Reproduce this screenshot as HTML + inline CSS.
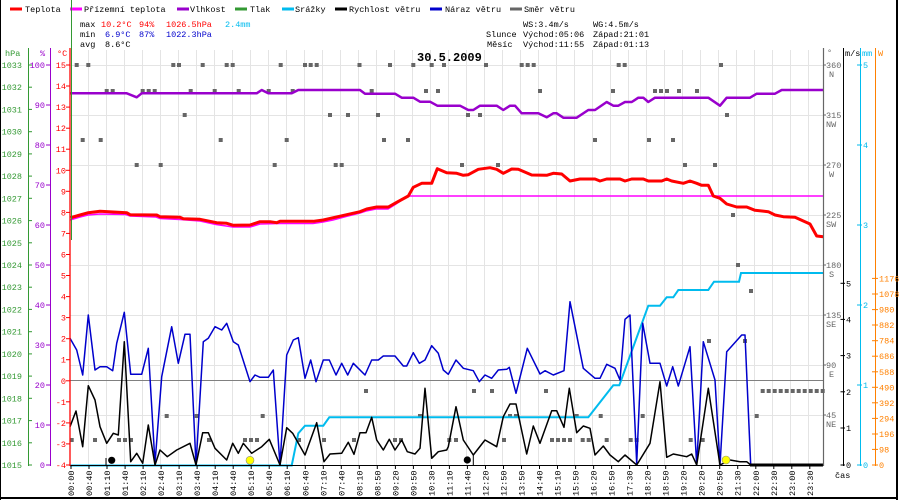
<!DOCTYPE html>
<html><head><meta charset="utf-8"><style>
html,body{margin:0;padding:0;background:#fff;}
svg{display:block;}
text{font-family:"Liberation Mono","DejaVu Sans Mono",monospace;font-size:8.5px;}
</style></head><body>
<svg width="900" height="500" viewBox="0 0 900 500" xmlns="http://www.w3.org/2000/svg">
<rect x="0" y="0" width="900" height="500" fill="#fff"/>
<rect x="0" y="0" width="1" height="500" fill="#000"/>
<rect x="896" y="0" width="2" height="500" fill="#000"/>
<rect x="0" y="497" width="898" height="2" fill="#000"/>

<g stroke-width="3">
<line x1="10" y1="9" x2="22" y2="9" stroke="#ff0000"/>
<line x1="70" y1="9" x2="82" y2="9" stroke="#ff00ff"/>
<line x1="177" y1="9" x2="189" y2="9" stroke="#9900cc"/>
<line x1="235" y1="9" x2="247" y2="9" stroke="#339933"/>
<line x1="282" y1="9" x2="294" y2="9" stroke="#00bbee"/>
<line x1="335" y1="9" x2="347" y2="9" stroke="#000"/>
<line x1="430" y1="9" x2="442" y2="9" stroke="#0000cc"/>
<line x1="510" y1="9" x2="522" y2="9" stroke="#666"/>
</g>
<g fill="#000">
<text x="25" y="12">Teplota</text>
<text x="84" y="12">Přízemní teplota</text>
<text x="190" y="12">Vlhkost</text>
<text x="250" y="12">Tlak</text>
<text x="295" y="12">Srážky</text>
<text x="349" y="12">Rychlost větru</text>
<text x="445" y="12">Náraz větru</text>
<text x="524" y="12">Směr větru</text>
</g>
<text x="80" y="27">max</text>
<text x="101" y="27" fill="#ff0000">10.2°C</text>
<text x="139" y="27" fill="#ff0000">94%</text>
<text x="166" y="27" fill="#ff0000">1026.5hPa</text>
<text x="225" y="27" fill="#00bbee">2.4mm</text>
<text x="80" y="37">min</text>
<text x="105" y="37" fill="#0000cc">6.9°C</text>
<text x="139" y="37" fill="#0000cc">87%</text>
<text x="166" y="37" fill="#0000cc">1022.3hPa</text>
<text x="80" y="47">avg</text>
<text x="105" y="47">8.6°C</text>

<text x="523" y="27">WS:3.4m/s</text>
<text x="593" y="27">WG:4.5m/s</text>
<text x="486" y="37">Slunce</text>
<text x="523" y="37">Východ:05:06</text>
<text x="593" y="37">Západ:21:01</text>
<text x="487" y="47">Měsíc</text>
<text x="523" y="47">Východ:11:55</text>
<text x="593" y="47">Západ:01:13</text>

<g stroke="#e4e4e4" stroke-width="1">
<line x1="88.5" y1="50" x2="88.5" y2="465"/><line x1="106.5" y1="50" x2="106.5" y2="465"/><line x1="124.5" y1="50" x2="124.5" y2="465"/><line x1="142.5" y1="50" x2="142.5" y2="465"/><line x1="160.5" y1="50" x2="160.5" y2="465"/><line x1="178.5" y1="50" x2="178.5" y2="465"/><line x1="196.5" y1="50" x2="196.5" y2="465"/><line x1="214.5" y1="50" x2="214.5" y2="465"/><line x1="232.5" y1="50" x2="232.5" y2="465"/><line x1="250.5" y1="50" x2="250.5" y2="465"/><line x1="268.5" y1="50" x2="268.5" y2="465"/><line x1="286.5" y1="50" x2="286.5" y2="465"/><line x1="304.5" y1="50" x2="304.5" y2="465"/><line x1="322.5" y1="50" x2="322.5" y2="465"/><line x1="340.5" y1="50" x2="340.5" y2="465"/><line x1="358.5" y1="50" x2="358.5" y2="465"/><line x1="376.5" y1="50" x2="376.5" y2="465"/><line x1="394.5" y1="50" x2="394.5" y2="465"/><line x1="412.5" y1="50" x2="412.5" y2="465"/><line x1="430.5" y1="50" x2="430.5" y2="465"/><line x1="448.5" y1="50" x2="448.5" y2="465"/><line x1="466.5" y1="50" x2="466.5" y2="465"/><line x1="484.5" y1="50" x2="484.5" y2="465"/><line x1="502.5" y1="50" x2="502.5" y2="465"/><line x1="520.5" y1="50" x2="520.5" y2="465"/><line x1="538.5" y1="50" x2="538.5" y2="465"/><line x1="556.5" y1="50" x2="556.5" y2="465"/><line x1="574.5" y1="50" x2="574.5" y2="465"/><line x1="592.5" y1="50" x2="592.5" y2="465"/><line x1="610.5" y1="50" x2="610.5" y2="465"/><line x1="628.5" y1="50" x2="628.5" y2="465"/><line x1="646.5" y1="50" x2="646.5" y2="465"/><line x1="664.5" y1="50" x2="664.5" y2="465"/><line x1="682.5" y1="50" x2="682.5" y2="465"/><line x1="700.5" y1="50" x2="700.5" y2="465"/><line x1="718.5" y1="50" x2="718.5" y2="465"/><line x1="736.5" y1="50" x2="736.5" y2="465"/><line x1="754.5" y1="50" x2="754.5" y2="465"/><line x1="772.5" y1="50" x2="772.5" y2="465"/><line x1="790.5" y1="50" x2="790.5" y2="465"/><line x1="808.5" y1="50" x2="808.5" y2="465"/>
</g>
<g stroke="#e4e4e4" stroke-width="1">
<line x1="70" y1="65.5" x2="823" y2="65.5"/><line x1="70" y1="115.5" x2="823" y2="115.5"/><line x1="70" y1="165.5" x2="823" y2="165.5"/><line x1="70" y1="215.5" x2="823" y2="215.5"/><line x1="70" y1="265.5" x2="823" y2="265.5"/><line x1="70" y1="315.5" x2="823" y2="315.5"/><line x1="70" y1="365.5" x2="823" y2="365.5"/><line x1="70" y1="415.5" x2="823" y2="415.5"/>
</g>
<line x1="70" y1="380.5" x2="823" y2="380.5" stroke="#808080" stroke-width="1"/>

<text x="417" y="61" style="font-size:12px;font-weight:bold">30.5.2009</text>

<g fill="#666">
<rect x="74.7" y="63" width="4" height="4"/><rect x="86.3" y="63" width="4" height="4"/><rect x="171.3" y="63" width="4" height="4"/><rect x="177" y="63" width="4" height="4"/><rect x="200.7" y="63" width="4" height="4"/><rect x="224.7" y="63" width="4" height="4"/><rect x="230.7" y="63" width="4" height="4"/><rect x="278.7" y="63" width="4" height="4"/><rect x="303" y="63" width="4" height="4"/><rect x="308.7" y="63" width="4" height="4"/><rect x="314.7" y="63" width="4" height="4"/><rect x="357.5" y="63" width="4" height="4"/><rect x="388" y="63" width="4" height="4"/><rect x="411.3" y="63" width="4" height="4"/><rect x="429.7" y="63" width="4" height="4"/><rect x="442" y="63" width="4" height="4"/><rect x="484" y="63" width="4" height="4"/><rect x="519.7" y="63" width="4" height="4"/><rect x="525.7" y="63" width="4" height="4"/><rect x="531.7" y="63" width="4" height="4"/><rect x="616.7" y="63" width="4" height="4"/><rect x="622.7" y="63" width="4" height="4"/><rect x="719" y="63" width="4" height="4"/>
<rect x="104.7" y="89" width="4" height="4"/><rect x="110.7" y="89" width="4" height="4"/><rect x="140.7" y="89" width="4" height="4"/><rect x="146.7" y="89" width="4" height="4"/><rect x="152.7" y="89" width="4" height="4"/><rect x="188.7" y="89" width="4" height="4"/><rect x="212.7" y="89" width="4" height="4"/><rect x="236.7" y="89" width="4" height="4"/><rect x="266.7" y="89" width="4" height="4"/><rect x="290.7" y="89" width="4" height="4"/><rect x="369.7" y="89" width="4" height="4"/><rect x="424" y="89" width="4" height="4"/><rect x="436" y="89" width="4" height="4"/><rect x="538" y="89" width="4" height="4"/><rect x="611" y="89" width="4" height="4"/><rect x="653" y="89" width="4" height="4"/><rect x="659" y="89" width="4" height="4"/><rect x="665" y="89" width="4" height="4"/><rect x="677" y="89" width="4" height="4"/><rect x="695" y="89" width="4" height="4"/>
<rect x="182.7" y="113" width="4" height="4"/><rect x="328" y="113" width="4" height="4"/><rect x="346" y="113" width="4" height="4"/><rect x="376" y="113" width="4" height="4"/><rect x="466" y="113" width="4" height="4"/><rect x="478" y="113" width="4" height="4"/><rect x="725" y="113" width="4" height="4"/>
<rect x="80.7" y="138" width="4" height="4"/><rect x="98.7" y="138" width="4" height="4"/><rect x="218.7" y="138" width="4" height="4"/><rect x="284.7" y="138" width="4" height="4"/><rect x="382" y="138" width="4" height="4"/><rect x="406" y="138" width="4" height="4"/><rect x="593" y="138" width="4" height="4"/><rect x="647" y="138" width="4" height="4"/><rect x="671" y="138" width="4" height="4"/>
<rect x="134.7" y="163" width="4" height="4"/><rect x="158.7" y="163" width="4" height="4"/><rect x="272.7" y="163" width="4" height="4"/><rect x="333.7" y="163" width="4" height="4"/><rect x="339.7" y="163" width="4" height="4"/><rect x="460" y="163" width="4" height="4"/><rect x="496" y="163" width="4" height="4"/><rect x="683" y="163" width="4" height="4"/><rect x="713" y="163" width="4" height="4"/>
<rect x="731" y="213" width="4" height="4"/><rect x="736" y="263" width="4" height="4"/><rect x="749" y="289" width="4" height="4"/><rect x="707" y="339" width="4" height="4"/><rect x="743" y="339" width="4" height="4"/>
<rect x="364" y="389" width="4" height="4"/><rect x="472" y="389" width="4" height="4"/><rect x="490" y="389" width="4" height="4"/><rect x="544" y="389" width="4" height="4"/><rect x="760.7" y="389" width="4" height="4"/><rect x="766.7" y="389" width="4" height="4"/><rect x="772.7" y="389" width="4" height="4"/><rect x="778.7" y="389" width="4" height="4"/><rect x="784.7" y="389" width="4" height="4"/><rect x="790.7" y="389" width="4" height="4"/><rect x="796.7" y="389" width="4" height="4"/><rect x="802.7" y="389" width="4" height="4"/><rect x="808.7" y="389" width="4" height="4"/><rect x="814.7" y="389" width="4" height="4"/><rect x="820.7" y="389" width="4" height="4"/>
<rect x="164.7" y="414" width="4" height="4"/><rect x="194.7" y="414" width="4" height="4"/><rect x="260.7" y="414" width="4" height="4"/><rect x="418" y="414" width="4" height="4"/><rect x="508" y="414" width="4" height="4"/><rect x="514" y="414" width="4" height="4"/><rect x="574.7" y="414" width="4" height="4"/><rect x="598.7" y="414" width="4" height="4"/><rect x="640.7" y="414" width="4" height="4"/><rect x="754.7" y="414" width="4" height="4"/>
<rect x="69.7" y="438" width="4" height="4"/><rect x="93" y="438" width="4" height="4"/><rect x="117" y="438" width="4" height="4"/><rect x="123" y="438" width="4" height="4"/><rect x="129" y="438" width="4" height="4"/><rect x="207" y="438" width="4" height="4"/><rect x="243" y="438" width="4" height="4"/><rect x="249" y="438" width="4" height="4"/><rect x="255" y="438" width="4" height="4"/><rect x="297" y="438" width="4" height="4"/><rect x="322" y="438" width="4" height="4"/><rect x="352" y="438" width="4" height="4"/><rect x="393" y="438" width="4" height="4"/><rect x="399" y="438" width="4" height="4"/><rect x="447.3" y="438" width="4" height="4"/><rect x="454" y="438" width="4" height="4"/><rect x="502" y="438" width="4" height="4"/><rect x="550" y="438" width="4" height="4"/><rect x="556" y="438" width="4" height="4"/><rect x="562" y="438" width="4" height="4"/><rect x="568" y="438" width="4" height="4"/><rect x="580.7" y="438" width="4" height="4"/><rect x="586.7" y="438" width="4" height="4"/><rect x="604.7" y="438" width="4" height="4"/><rect x="628.7" y="438" width="4" height="4"/><rect x="634.7" y="438" width="4" height="4"/><rect x="688.7" y="438" width="4" height="4"/><rect x="700.7" y="438" width="4" height="4"/>
</g>

<polyline fill="none" stroke="#9900cc" stroke-width="2.5" stroke-linejoin="round" points="70,93.3 126.7,93.3 136.7,97.3 141.7,93.3 256.7,93.3 261.7,90 268.3,93.3 291.7,93.3 298.3,90 360,90 365,93.7 395,93.7 401.7,97.7 413.3,97.7 420,101.7 430,101.7 437.3,105.7 460,105.7 468.3,110 473.3,110 480,105.7 496.7,105.7 503.3,110 510,105.7 515,105.7 521.7,113.3 538.3,113.3 546.7,117.3 553.3,113.3 556.7,113.3 563.3,117.7 576.7,117.7 588.3,110 595,110 606.7,102 613.3,105.7 618.3,105.7 625,102 631.7,102 638.3,97.7 643.3,97.7 648.3,102 655,97.7 708.3,97.7 720,105.7 726.7,97.7 750,97.7 756.7,93.7 775,93.7 781.7,90 823.3,90"/>

<polyline fill="none" stroke="#ff00ff" stroke-width="1.6" points="70,220 80,217 88,215 100,214 126,214.5 130,216 156,217 160,218.5 180,219.5 200,221 216,224.5 233,227 250,227 260,224 280,223.5 313,223.5 323,222 333,220 346,216.5 360,213 366,211 376,209 388,209 396,204 408,196 823,196"/>

<polyline fill="none" stroke="#ff0000" stroke-width="3" stroke-linejoin="round" points="70.7,217.7 80,215 88.3,212.7 100,211.3 126.7,212.7 130,214.7 156.7,215 160,216.7 180,217.3 183.3,218.7 200,219.3 216.7,222.7 226.7,223.3 233.3,225.3 250,225 260,221.7 270,221.7 276.7,222.7 280,221.3 313.3,221.3 323.3,220 333.3,217.7 346.7,214.7 360,211.7 366.7,209 376.7,207 388.3,207 396.7,202.3 408.3,196 413.3,187.3 421.7,183.3 431.7,183.3 437.3,168.7 446.7,172.7 456.7,173.3 463.3,175.3 468.3,174.7 478.3,169.3 490,167.7 496.7,169.3 503.3,173.3 511.7,169 518.3,169.3 531.7,175 546.7,175.3 553.3,173.3 561.7,174 570,181 580,179 595,179 600,181 606.7,179 620,179 625,181 631.7,179 643.3,179 648.3,181 661.7,181 666.7,179 671.7,181 683.3,183.3 690,181 696.7,183.3 701.7,185.3 708.3,185.3 713.3,196 720,198.3 726.7,204 736.7,207 746.7,207 755,210.3 768.3,211.7 775,215 783.3,216.7 795,217.3 810,224 816.7,236 823.3,236.7"/>

<polyline fill="none" stroke="#00bbee" stroke-width="2" points="70,465.5 291.7,465.5 298.3,433.3 305,425.7 323.3,425.7 329.3,417.3 588.3,417.3 613.3,385.3 619.3,385.3 648.3,305.7 660,305.7 666.7,297.3 673.3,297.3 678.3,290 708.3,290 714,281.7 739,281.7 741,273 823,273"/>

<polyline fill="none" stroke="#0000cc" stroke-width="1.5" stroke-linejoin="round" points="70,338.3 76.7,350 82.7,375 88.3,315 95,370 100,366.7 106.7,366.7 112.7,370.7 116.7,343.3 124.3,312.3 130.7,374.3 141.7,374.3 148.3,348.3 155,463.3 161.7,376.7 171.7,326.7 178.3,363.3 185,334.3 190,334.3 196,465 203.3,341.7 208.3,338.3 215,326.7 221.7,330 226.7,323.3 233.3,341.7 238.3,345 250,381.7 255,375 260,377.3 268.3,377.3 273.3,370 280,465 286.7,355 293.3,340 298.3,337.7 305,378.3 310.7,360 316,381.7 323.3,360 329.3,360 336,375 341.7,363.3 347.7,375 353.3,363.3 365,375 371.7,360 378.3,360 383.3,356 395,356 403.3,366 406.7,366 413.3,352.7 419.3,363.3 425,360 431.7,345.7 438.3,353.3 443.3,370 448.3,374.3 456,360 463.3,368.3 473.3,370.7 479.3,381.7 485,375 491.7,378.3 498.3,370 506.7,369.3 509.3,367.3 516,393.3 527.3,348.3 540,374 545,370.7 553.3,375 564,370.7 570,301.7 583.3,368.3 595,378.3 600,378.3 606.7,364.3 615,368.3 620,380 625,319.3 630,315 636.7,463.3 642.7,323.3 650,363.3 660,363.3 666.7,386 672.7,366.7 678.3,386 690,346.7 696.7,465 703.3,341.7 715,380 720,465 726.7,351.7 741.7,335 745,335 750.7,465"/>

<polyline fill="none" stroke="#000" stroke-width="1.5" stroke-linejoin="round" points="70,426.7 76,411 82.7,446.7 88.3,385.7 95,400 100,426.7 106.7,443.3 113.3,433.3 118.3,435 124.3,341.7 130.7,461.7 136.7,453.3 142.7,463.3 148.3,425 155,465 160,450 167.3,456.7 176.7,450 190,443.3 196,465 202.7,432.7 208.3,432.7 215,448.3 226.7,460 232.7,443.3 238.3,453.3 243.3,443.3 251.7,453.3 261.7,446.7 269.3,439.3 280,465 286.7,427.7 292.7,433.3 305,455 316.7,422.7 324,461.7 330,454 341.7,453.3 348.3,442.3 354,454.3 360,432.7 366,432.7 371.7,417.3 376.7,440 383.3,450 389.3,439.3 395,450 401.7,440 407.3,451.7 415,454 420,448.3 425,388.3 431.7,458.3 438.3,451.7 446.7,450 448.3,446.7 456,406.7 463.3,440 473.3,455 485,440 496.7,446.7 503.3,416.7 510,404 516,404 526.7,454 533.3,426 540,443.3 551.7,410.7 556.7,410.7 564,427.3 569.3,388.3 576.7,432.7 583.3,426 590,428.3 595,455 603.3,446 610,455 618.3,461.7 625,455 636.7,465 650,443.3 660,381.7 666.7,457.3 673.3,454 686.7,456.7 691.7,454 696.7,465 708.3,388.3 720,465 730,460 740,461.7 746.7,461.7 750.7,465"/>
<line x1="750" y1="465" x2="823" y2="465" stroke="#000" stroke-width="3"/>

<line x1="70" y1="465.5" x2="823" y2="465.5" stroke="#000" stroke-width="1"/>
<line x1="106" y1="458" x2="106" y2="465" stroke="#000" stroke-width="1"/>
<line x1="473.3" y1="455" x2="473.3" y2="465" stroke="#000" stroke-width="1"/>
<circle cx="111.7" cy="460.3" r="3.6" fill="#000"/>
<circle cx="467.3" cy="460" r="3.6" fill="#000"/>
<circle cx="250" cy="460.3" r="4" fill="#ffff00" stroke="#888" stroke-width="0.6"/>
<circle cx="726" cy="460" r="4" fill="#ffff00" stroke="#888" stroke-width="0.6"/>

<line x1="28.5" y1="48" x2="28.5" y2="466" stroke="#339933" stroke-width="1"/>
<line x1="50.5" y1="48" x2="50.5" y2="466" stroke="#9900cc" stroke-width="1"/>
<line x1="71.5" y1="0" x2="71.5" y2="240" stroke="#339933" stroke-width="1"/>
<line x1="70" y1="48" x2="70" y2="466" stroke="#ff0000" stroke-width="1.3"/>
<text x="5" y="56" fill="#339933">hPa</text>
<text x="40" y="56" fill="#9900cc">%</text>
<text x="57" y="56" fill="#ff0000">°C</text>

<g fill="#339933" text-anchor="end">
<text x="22" y="68">1033</text><text x="22" y="90.2">1032</text><text x="22" y="112.4">1031</text><text x="22" y="134.7">1030</text><text x="22" y="156.9">1029</text><text x="22" y="179.1">1028</text><text x="22" y="201.3">1027</text><text x="22" y="223.6">1026</text><text x="22" y="245.8">1025</text><text x="22" y="268">1024</text><text x="22" y="290.2">1023</text><text x="22" y="312.4">1022</text><text x="22" y="334.7">1021</text><text x="22" y="356.9">1020</text><text x="22" y="379.1">1019</text><text x="22" y="401.3">1018</text><text x="22" y="423.6">1017</text><text x="22" y="445.8">1016</text><text x="22" y="468">1015</text>
</g>
<g stroke="#339933" stroke-width="1">
<line x1="28" y1="65" x2="32" y2="65"/><line x1="28" y1="87.2" x2="32" y2="87.2"/><line x1="28" y1="109.4" x2="32" y2="109.4"/><line x1="28" y1="131.7" x2="32" y2="131.7"/><line x1="28" y1="153.9" x2="32" y2="153.9"/><line x1="28" y1="176.1" x2="32" y2="176.1"/><line x1="28" y1="198.3" x2="32" y2="198.3"/><line x1="28" y1="220.6" x2="32" y2="220.6"/><line x1="28" y1="242.8" x2="32" y2="242.8"/><line x1="28" y1="265" x2="32" y2="265"/><line x1="28" y1="287.2" x2="32" y2="287.2"/><line x1="28" y1="309.4" x2="32" y2="309.4"/><line x1="28" y1="331.7" x2="32" y2="331.7"/><line x1="28" y1="353.9" x2="32" y2="353.9"/><line x1="28" y1="376.1" x2="32" y2="376.1"/><line x1="28" y1="398.3" x2="32" y2="398.3"/><line x1="28" y1="420.6" x2="32" y2="420.6"/><line x1="28" y1="442.8" x2="32" y2="442.8"/><line x1="28" y1="465" x2="32" y2="465"/>
</g>
<g fill="#9900cc" text-anchor="end">
<text x="45" y="68">100</text><text x="45" y="108">90</text><text x="45" y="148">80</text><text x="45" y="188">70</text><text x="45" y="228">60</text><text x="45" y="268">50</text><text x="45" y="308">40</text><text x="45" y="348">30</text><text x="45" y="388">20</text><text x="45" y="428">10</text><text x="45" y="468">0</text>
</g>
<g stroke="#9900cc" stroke-width="1">
<line x1="46" y1="65" x2="50" y2="65"/><line x1="46" y1="105" x2="50" y2="105"/><line x1="46" y1="145" x2="50" y2="145"/><line x1="46" y1="185" x2="50" y2="185"/><line x1="46" y1="225" x2="50" y2="225"/><line x1="46" y1="265" x2="50" y2="265"/><line x1="46" y1="305" x2="50" y2="305"/><line x1="46" y1="345" x2="50" y2="345"/><line x1="46" y1="385" x2="50" y2="385"/><line x1="46" y1="425" x2="50" y2="425"/><line x1="46" y1="465" x2="50" y2="465"/>
</g>
<g fill="#ff0000" text-anchor="end">
<text x="66" y="68">15</text><text x="66" y="89">14</text><text x="66" y="110.1">13</text><text x="66" y="131.2">12</text><text x="66" y="152.2">11</text><text x="66" y="173.3">10</text><text x="66" y="194.3">9</text><text x="66" y="215.4">8</text><text x="66" y="236.4">7</text><text x="66" y="257.5">6</text><text x="66" y="278.5">5</text><text x="66" y="299.6">4</text><text x="66" y="320.6">3</text><text x="66" y="341.7">2</text><text x="66" y="362.7">1</text><text x="66" y="383.8">0</text><text x="66" y="404.8">-1</text><text x="66" y="425.9">-2</text><text x="66" y="446.9">-3</text><text x="66" y="468">-4</text>
</g>
<g stroke="#ff0000" stroke-width="1">
<line x1="66" y1="65" x2="70" y2="65"/><line x1="66" y1="86" x2="70" y2="86"/><line x1="66" y1="107.1" x2="70" y2="107.1"/><line x1="66" y1="128.2" x2="70" y2="128.2"/><line x1="66" y1="149.2" x2="70" y2="149.2"/><line x1="66" y1="170.3" x2="70" y2="170.3"/><line x1="66" y1="191.3" x2="70" y2="191.3"/><line x1="66" y1="212.4" x2="70" y2="212.4"/><line x1="66" y1="233.4" x2="70" y2="233.4"/><line x1="66" y1="254.5" x2="70" y2="254.5"/><line x1="66" y1="275.5" x2="70" y2="275.5"/><line x1="66" y1="296.6" x2="70" y2="296.6"/><line x1="66" y1="317.6" x2="70" y2="317.6"/><line x1="66" y1="338.7" x2="70" y2="338.7"/><line x1="66" y1="359.7" x2="70" y2="359.7"/><line x1="66" y1="380.8" x2="70" y2="380.8"/><line x1="66" y1="401.8" x2="70" y2="401.8"/><line x1="66" y1="422.9" x2="70" y2="422.9"/><line x1="66" y1="443.9" x2="70" y2="443.9"/><line x1="66" y1="465" x2="70" y2="465"/>
</g>

<line x1="823.5" y1="48" x2="823.5" y2="466" stroke="#666" stroke-width="1.2"/>
<line x1="843.5" y1="48" x2="843.5" y2="466" stroke="#000" stroke-width="1"/>
<line x1="860.5" y1="48" x2="860.5" y2="466" stroke="#00bbee" stroke-width="1"/>
<line x1="875.5" y1="48" x2="875.5" y2="466" stroke="#ff8000" stroke-width="1"/>
<text x="827" y="55" fill="#666">°</text>
<text x="845" y="56" fill="#000">m/s</text>
<text x="862" y="56" fill="#00bbee">mm</text>
<text x="878" y="56" fill="#ff8000">W</text>

<g fill="#666">
<text x="826" y="68">360</text><text x="829" y="77">N</text>
<text x="826" y="118">315</text><text x="826" y="127">NW</text>
<text x="826" y="168">270</text><text x="829" y="177">W</text>
<text x="826" y="218">225</text><text x="826" y="227">SW</text>
<text x="826" y="268">180</text><text x="829" y="277">S</text>
<text x="826" y="318">135</text><text x="826" y="327">SE</text>
<text x="826" y="368">90</text><text x="829" y="377">E</text>
<text x="826" y="418">45</text><text x="826" y="427">NE</text>
</g>
<g stroke="#666"><line x1="823" y1="65" x2="826" y2="65"/><line x1="823" y1="115" x2="826" y2="115"/><line x1="823" y1="165" x2="826" y2="165"/><line x1="823" y1="215" x2="826" y2="215"/><line x1="823" y1="265" x2="826" y2="265"/><line x1="823" y1="315" x2="826" y2="315"/><line x1="823" y1="365" x2="826" y2="365"/><line x1="823" y1="415" x2="826" y2="415"/></g>

<g fill="#000">
<text x="846" y="286.3">5</text><text x="846" y="322.4">4</text><text x="846" y="358.6">3</text><text x="846" y="394.8">2</text><text x="846" y="431">1</text><text x="846" y="468">0</text>
</g>
<g stroke="#000"><line x1="840.5" y1="283.3" x2="845" y2="283.3"/><line x1="840.5" y1="319.4" x2="845" y2="319.4"/><line x1="840.5" y1="355.6" x2="845" y2="355.6"/><line x1="840.5" y1="391.8" x2="845" y2="391.8"/><line x1="840.5" y1="428" x2="845" y2="428"/><line x1="840.5" y1="465" x2="845" y2="465"/></g>

<g fill="#00bbee">
<text x="863" y="68">5</text><text x="863" y="148">4</text><text x="863" y="228">3</text><text x="863" y="308">2</text><text x="863" y="388">1</text><text x="863" y="468">0</text>
</g>
<g stroke="#00bbee"><line x1="857" y1="65" x2="862" y2="65"/><line x1="857" y1="145" x2="862" y2="145"/><line x1="857" y1="225" x2="862" y2="225"/><line x1="857" y1="305" x2="862" y2="305"/><line x1="857" y1="385" x2="862" y2="385"/><line x1="857" y1="465" x2="862" y2="465"/></g>

<g fill="#ff8000">
<text x="879" y="281.4">1176</text><text x="879" y="297">1078</text><text x="879" y="312.6">980</text><text x="879" y="328">882</text><text x="879" y="343.7">784</text><text x="879" y="359.2">686</text><text x="879" y="374.8">588</text><text x="879" y="390.3">490</text><text x="879" y="405.8">392</text><text x="879" y="421.4">294</text><text x="879" y="437">196</text><text x="879" y="452.4">98</text><text x="879" y="468">0</text>
</g>
<g stroke="#ff8000"><line x1="872" y1="278.4" x2="878" y2="278.4"/><line x1="872" y1="294" x2="878" y2="294"/><line x1="872" y1="309.6" x2="878" y2="309.6"/><line x1="872" y1="325" x2="878" y2="325"/><line x1="872" y1="340.7" x2="878" y2="340.7"/><line x1="872" y1="356.2" x2="878" y2="356.2"/><line x1="872" y1="371.8" x2="878" y2="371.8"/><line x1="872" y1="387.3" x2="878" y2="387.3"/><line x1="872" y1="402.8" x2="878" y2="402.8"/><line x1="872" y1="418.4" x2="878" y2="418.4"/><line x1="872" y1="434" x2="878" y2="434"/><line x1="872" y1="449.4" x2="878" y2="449.4"/><line x1="872" y1="465" x2="878" y2="465"/></g>

<text x="835" y="478" fill="#000">čas</text>

<g stroke="#000" stroke-width="1">
<line x1="71" y1="465" x2="71" y2="469"/><line x1="89" y1="465" x2="89" y2="469"/><line x1="107" y1="465" x2="107" y2="469"/><line x1="125.1" y1="465" x2="125.1" y2="469"/><line x1="143.1" y1="465" x2="143.1" y2="469"/><line x1="161.1" y1="465" x2="161.1" y2="469"/><line x1="179.1" y1="465" x2="179.1" y2="469"/><line x1="197.1" y1="465" x2="197.1" y2="469"/><line x1="215.2" y1="465" x2="215.2" y2="469"/><line x1="233.2" y1="465" x2="233.2" y2="469"/><line x1="251.2" y1="465" x2="251.2" y2="469"/><line x1="269.2" y1="465" x2="269.2" y2="469"/><line x1="287.2" y1="465" x2="287.2" y2="469"/><line x1="305.3" y1="465" x2="305.3" y2="469"/><line x1="323.3" y1="465" x2="323.3" y2="469"/><line x1="341.3" y1="465" x2="341.3" y2="469"/><line x1="359.3" y1="465" x2="359.3" y2="469"/><line x1="377.3" y1="465" x2="377.3" y2="469"/><line x1="395.4" y1="465" x2="395.4" y2="469"/><line x1="413.4" y1="465" x2="413.4" y2="469"/><line x1="431.4" y1="465" x2="431.4" y2="469"/><line x1="449.4" y1="465" x2="449.4" y2="469"/><line x1="467.4" y1="465" x2="467.4" y2="469"/><line x1="485.5" y1="465" x2="485.5" y2="469"/><line x1="503.5" y1="465" x2="503.5" y2="469"/><line x1="521.5" y1="465" x2="521.5" y2="469"/><line x1="539.5" y1="465" x2="539.5" y2="469"/><line x1="557.5" y1="465" x2="557.5" y2="469"/><line x1="575.6" y1="465" x2="575.6" y2="469"/><line x1="593.6" y1="465" x2="593.6" y2="469"/><line x1="611.6" y1="465" x2="611.6" y2="469"/><line x1="629.6" y1="465" x2="629.6" y2="469"/><line x1="647.6" y1="465" x2="647.6" y2="469"/><line x1="665.7" y1="465" x2="665.7" y2="469"/><line x1="683.7" y1="465" x2="683.7" y2="469"/><line x1="701.7" y1="465" x2="701.7" y2="469"/><line x1="719.7" y1="465" x2="719.7" y2="469"/><line x1="737.7" y1="465" x2="737.7" y2="469"/><line x1="755.8" y1="465" x2="755.8" y2="469"/><line x1="773.8" y1="465" x2="773.8" y2="469"/><line x1="791.8" y1="465" x2="791.8" y2="469"/><line x1="809.8" y1="465" x2="809.8" y2="469"/>
</g>
<g fill="#000">
<text transform="translate(71,496) rotate(-90)" dy="3">00:00</text>
<text transform="translate(89,496) rotate(-90)" dy="3">00:40</text>
<text transform="translate(107,496) rotate(-90)" dy="3">01:10</text>
<text transform="translate(125.1,496) rotate(-90)" dy="3">01:40</text>
<text transform="translate(143.1,496) rotate(-90)" dy="3">02:10</text>
<text transform="translate(161.1,496) rotate(-90)" dy="3">02:40</text>
<text transform="translate(179.1,496) rotate(-90)" dy="3">03:10</text>
<text transform="translate(197.1,496) rotate(-90)" dy="3">03:40</text>
<text transform="translate(215.2,496) rotate(-90)" dy="3">04:10</text>
<text transform="translate(233.2,496) rotate(-90)" dy="3">04:40</text>
<text transform="translate(251.2,496) rotate(-90)" dy="3">05:10</text>
<text transform="translate(269.2,496) rotate(-90)" dy="3">05:40</text>
<text transform="translate(287.2,496) rotate(-90)" dy="3">06:10</text>
<text transform="translate(305.3,496) rotate(-90)" dy="3">06:40</text>
<text transform="translate(323.3,496) rotate(-90)" dy="3">07:10</text>
<text transform="translate(341.3,496) rotate(-90)" dy="3">07:40</text>
<text transform="translate(359.3,496) rotate(-90)" dy="3">08:10</text>
<text transform="translate(377.3,496) rotate(-90)" dy="3">08:50</text>
<text transform="translate(395.4,496) rotate(-90)" dy="3">09:20</text>
<text transform="translate(413.4,496) rotate(-90)" dy="3">09:50</text>
<text transform="translate(431.4,496) rotate(-90)" dy="3">10:30</text>
<text transform="translate(449.4,496) rotate(-90)" dy="3">11:10</text>
<text transform="translate(467.4,496) rotate(-90)" dy="3">11:40</text>
<text transform="translate(485.5,496) rotate(-90)" dy="3">12:20</text>
<text transform="translate(503.5,496) rotate(-90)" dy="3">12:50</text>
<text transform="translate(521.5,496) rotate(-90)" dy="3">13:50</text>
<text transform="translate(539.5,496) rotate(-90)" dy="3">14:40</text>
<text transform="translate(557.5,496) rotate(-90)" dy="3">15:10</text>
<text transform="translate(575.6,496) rotate(-90)" dy="3">15:50</text>
<text transform="translate(593.6,496) rotate(-90)" dy="3">16:20</text>
<text transform="translate(611.6,496) rotate(-90)" dy="3">16:50</text>
<text transform="translate(629.6,496) rotate(-90)" dy="3">17:30</text>
<text transform="translate(647.6,496) rotate(-90)" dy="3">18:20</text>
<text transform="translate(665.7,496) rotate(-90)" dy="3">18:50</text>
<text transform="translate(683.7,496) rotate(-90)" dy="3">19:20</text>
<text transform="translate(701.7,496) rotate(-90)" dy="3">20:20</text>
<text transform="translate(719.7,496) rotate(-90)" dy="3">20:50</text>
<text transform="translate(737.7,496) rotate(-90)" dy="3">21:30</text>
<text transform="translate(755.8,496) rotate(-90)" dy="3">22:00</text>
<text transform="translate(773.8,496) rotate(-90)" dy="3">22:30</text>
<text transform="translate(791.8,496) rotate(-90)" dy="3">23:00</text>
<text transform="translate(809.8,496) rotate(-90)" dy="3">23:30</text>
</g>
</svg>
</body></html>
